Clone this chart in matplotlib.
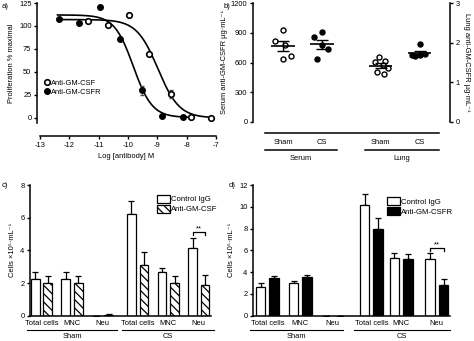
import numpy as np
import matplotlib
matplotlib.use("Agg")
import matplotlib.pyplot as plt
import matplotlib.transforms as mtransforms
from matplotlib.patches import Patch

plt.rcParams['font.family'] = ['Liberation Sans', 'DejaVu Sans']
plt.rcParams['font.size'] = 5.4
plt.rcParams['axes.unicode_minus'] = False
plt.rcParams['axes.linewidth'] = 1.1
plt.rcParams['xtick.major.width'] = 1.0
plt.rcParams['ytick.major.width'] = 1.0
plt.rcParams['xtick.major.size'] = 2.5
plt.rcParams['ytick.major.size'] = 2.5
plt.rcParams['xtick.major.pad'] = 2
plt.rcParams['ytick.major.pad'] = 1.5
plt.rcParams['hatch.linewidth'] = 0.9

# ---- a) proliferation vs antibody concentration ----
csf_logc = [-11.35, -10.67, -9.95, -9.27, -8.53, -7.86, -7.16]
csf_prolif = [105.5, 101.5, 111.5, 70.0, 26.0, 1.5, 0.0]
csf_err = [0, 0, 0, 0, 4, 0, 0]
csfr_logc = [-12.34, -11.67, -10.95, -10.27, -9.53, -8.85, -8.13]
csfr_prolif = [108.0, 103.5, 120.5, 86.0, 30.0, 2.5, 0.5]
csfr_err = [0, 0, 0, 0, 5, 0, 0]
# four-parameter logistic fits: top, bottom, logIC50, hill
csf_fit = (107.0, 0.0, -8.98, 1.2)
csfr_fit = (112.0, 0.5, -9.82, 1.35)

# ---- b) serum and lung anti-GM-CSFR ----
serum_sham = [928, 812, 780, 665, 635]
serum_cs = [905, 857, 777, 737, 635]
lung_sham = [1.64, 1.55, 1.51, 1.43, 1.35, 1.26, 1.22]
lung_cs = [1.96, 1.70, 1.68, 1.72, 1.66]

# ---- c) / d) BAL cell counts ----
cell_types = ["Total cells", "MNC", "Neu", "Total cells", "MNC", "Neu"]
groups = ["Sham", "CS"]
c_ctrl = [2.25, 2.25, 0.0, 6.22, 2.70, 4.17]
c_ctrl_err = [0.45, 0.40, 0.0, 0.82, 0.22, 0.57]
c_anti = [2.00, 1.98, 0.05, 3.10, 2.00, 1.85]
c_anti_err = [0.45, 0.44, 0.03, 0.82, 0.45, 0.65]
d_ctrl = [2.66, 2.97, 0.0, 10.16, 5.32, 5.17]
d_ctrl_err = [0.31, 0.23, 0.0, 1.01, 0.48, 0.55]
d_anti = [3.43, 3.52, 0.0, 8.00, 5.17, 2.85]
d_anti_err = [0.21, 0.23, 0.0, 0.93, 0.53, 0.55]

W, H = 474, 341
fig = plt.figure(figsize=(W / 100, H / 100), dpi=100)


def box(x0, y0, x1, y1):
    return fig.add_axes([x0 / W, 1 - y1 / H, (x1 - x0) / W, (y1 - y0) / H])


def fig_y(py):
    return 1 - py / H


def logistic(x, top, bottom, ic50, hill):
    return bottom + (top - bottom) / (1 + 10 ** ((x - ic50) * hill))


# ================= panel a =================
ax = box(37, 3, 216, 123)
ax.set_xlim(-13.1, -7)
ax.set_ylim(-5.5, 125)
for s in ("top", "right"):
    ax.spines[s].set_visible(False)
ax.spines["bottom"].set_position(("outward", 9))
ax.spines["bottom"].set_bounds(-13, -7)
ax.set_xticks(range(-13, -6))
ax.set_yticks([0, 25, 50, 75, 100, 125])

xs = np.linspace(-12.3, -7.15, 200)
ax.plot(xs, logistic(xs, *csf_fit), color="black", lw=1.2)
xs2 = np.linspace(-12.4, -7.8, 200)
ax.plot(xs2, logistic(xs2, *csfr_fit), color="black", lw=1.2)
ax.errorbar(csf_logc, csf_prolif, yerr=csf_err, fmt="none", ecolor="0.3", lw=0.6, capsize=1.5)
ax.errorbar(csfr_logc, csfr_prolif, yerr=csfr_err, fmt="none", ecolor="0.3", lw=0.6, capsize=1.5)
ax.plot(csf_logc, csf_prolif, "o", ms=4.0, mfc="white", mec="black", mew=1.2,
        label="Anti-GM-CSF", clip_on=False, zorder=3)
ax.plot(csfr_logc, csfr_prolif, "o", ms=4.0, mfc="black", mec="black",
        label="Anti-GM-CSFR", clip_on=False, zorder=3)
ax.legend(loc="upper left", bbox_to_anchor=(0.025, 0.385), frameon=False,
          handlelength=0.6, handletextpad=0.3, labelspacing=0.2, borderaxespad=0,
          fontsize=5.4)
ax.set_ylabel("Proliferation % maximal", labelpad=3)
ax.set_xlabel("Log [antibody] M", labelpad=3)
fig.text(2 / W, fig_y(8), "a)", fontsize=5.6)

# ================= panel b =================
bx = box(253, 3, 450, 122)
bpos = [0, 1, 2.5, 3.5]
bx.set_xlim(-0.77, 4.28)
bx.set_ylim(0, 1200)
bx.spines["top"].set_visible(False)
bx.spines["right"].set_visible(False)
bx.spines["bottom"].set_position(("outward", 8))
bx.spines["bottom"].set_bounds(-0.46, 4.0)
bx.set_yticks([0, 300, 600, 900, 1200])
bx.set_xticks(bpos)
bx.set_xticklabels(["Sham", "CS", "Sham", "CS"])
bx.tick_params(axis="x", length=0, pad=4)
bx.set_ylabel("Serum anti-GM-CSFR \u00b5g\u00b7mL\u207b\u00b9", labelpad=2)

bx2 = bx.twinx()
bx2.set_ylim(0, 3)
bx2.set_yticks([0, 1, 2, 3])
for s in ("top", "left", "bottom"):
    bx2.spines[s].set_visible(False)
bx2.set_ylabel("Lung anti-GM-CSFR \u00b5g\u00b7mL\u207b\u00b9", rotation=-90, labelpad=7)

jitter5 = [0.0, -0.2, 0.05, 0.2, 0.0]
jitter7 = [-0.05, 0.12, -0.15, 0.05, 0.18, -0.08, 0.08]
jitter5b = [0.0, -0.2, 0.0, 0.15, -0.12]


def scatter_group(a, x0, vals, jit, filled):
    vals = np.asarray(vals, float)
    xs = x0 + np.asarray(jit[:len(vals)])
    m = vals.mean()
    se = vals.std(ddof=1) / np.sqrt(len(vals))
    a.plot(xs, vals, "o", ms=3.6, mfc="black" if filled else "white",
           mec="black", mew=1.0, zorder=3, clip_on=False)
    a.hlines(m, x0 - 0.3, x0 + 0.3, color="black", lw=1.2, zorder=4)
    a.errorbar([x0], [m], yerr=[se], fmt="none", ecolor="black", lw=1.0,
               capsize=4, capthick=1.0, zorder=4)


scatter_group(bx, bpos[0], serum_sham, jitter5, False)
scatter_group(bx, bpos[1], serum_cs, jitter5b, True)
scatter_group(bx2, bpos[2], lung_sham, jitter7, False)
scatter_group(bx2, bpos[3], lung_cs, jitter5b, True)

tb = mtransforms.blended_transform_factory(bx.transData, fig.transFigure)
bx.plot([-0.46, 1.38], [fig_y(150)] * 2, color="black", lw=1.1, transform=tb, clip_on=False)
bx.plot([2.10, 4.0], [fig_y(150)] * 2, color="black", lw=1.1, transform=tb, clip_on=False)
bx.text(0.46, fig_y(158), "Serum", transform=tb, ha="center", va="center")
bx.text(3.05, fig_y(158), "Lung", transform=tb, ha="center", va="center")
fig.text(224 / W, fig_y(8), "b)", fontsize=5.6)


# ================= panels c and d =================
def bar_panel(x0px, x1px, pos, xlim, ylim, yticks, ctrl, ctrl_err, anti, anti_err,
              anti_style, anti_label, sig_y, grp_lines, grp_labels, tag, tag_x):
    a = box(x0px, 185, x1px, 315.7)
    a.set_xlim(*xlim)
    a.set_ylim(*ylim)
    a.set_yticks(yticks)
    for s in ("top", "right"):
        a.spines[s].set_visible(False)
    pos = np.asarray(pos)
    w, off = 0.29, 0.205
    a.bar(pos - off, ctrl, w, color="white", edgecolor="black", lw=0.9, zorder=2)
    a.bar(pos + off, anti, w, edgecolor="black", lw=0.9, zorder=2, **anti_style)
    a.errorbar(pos - off, ctrl, yerr=[np.zeros(len(ctrl)), ctrl_err], fmt="none",
               ecolor="black", lw=0.9, capsize=2.2, capthick=0.9, zorder=1)
    a.errorbar(pos + off, anti, yerr=[np.zeros(len(anti)), anti_err], fmt="none",
               ecolor="black", lw=0.9, capsize=2.2, capthick=0.9, zorder=1)
    a.set_xticks(pos)
    a.set_xticklabels(cell_types)
    a.tick_params(axis="x", length=0, pad=3)
    # significance bracket over CS neutrophils
    xl, xr = pos[5] - off, pos[5] + off
    tick = (ylim[1] - ylim[0]) * 0.018
    a.plot([xl, xl, xr, xr], [sig_y - tick, sig_y, sig_y, sig_y - tick], color="black", lw=0.9)
    a.text((xl + xr) / 2, sig_y, "**", ha="center", va="bottom", fontsize=5.5)
    handles = [Patch(facecolor="white", edgecolor="black", lw=0.9, label="Control IgG"),
               Patch(edgecolor="black", lw=0.9, label=anti_label, **anti_style)]
    a.legend(handles=handles, loc="upper left", bbox_to_anchor=legend_anchor[tag],
             frameon=False, handlelength=1.6, handleheight=1.2, handletextpad=0.2,
             labelspacing=0.2, borderaxespad=0, fontsize=5.6)
    a.set_ylabel("Cells \u00d710\u2075\u00b7mL\u207b\u00b9", labelpad=3)
    t = mtransforms.blended_transform_factory(a.transData, fig.transFigure)
    for (l, r), g in zip(grp_lines, grp_labels):
        a.plot([l, r], [fig_y(330)] * 2, color="black", lw=0.8, transform=t, clip_on=False)
        a.text((l + r) / 2, fig_y(336.5), g, transform=t, ha="center", va="center")
    fig.text(tag_x / W, fig_y(187), tag + ")", fontsize=5.6)
    return a


legend_anchor = {"c": (0.685, 0.95), "d": (0.665, 0.93)}

# c) pixel scale 30.5 px per unit, origin at first pair
c_pos = [0, 1, 2, 3.15, 4.15, 5.15]
bar_panel(30, 211, c_pos, (-0.38, 5.55), (0, 8), [0, 2, 4, 6, 8],
          c_ctrl, c_ctrl_err, c_anti, c_anti_err,
          dict(facecolor="white", hatch="\\\\\\\\"), "Anti-GM-CSF", 5.1,
          [(-0.48, 2.47), (2.64, 5.65)], groups, "c", 2)

# d) pixel scale 33 px per unit
d_pos = [0, 1, 1.98, 3.15, 4.05, 5.13]
bar_panel(253, 450, d_pos, (-0.436, 5.53), (0, 12), [0, 2, 4, 6, 8, 10, 12],
          d_ctrl, d_ctrl_err, d_anti, d_anti_err,
          dict(facecolor="black"), "Anti-GM-CSFR", 6.18,
          [(-0.53, 2.29), (2.62, 5.53)], groups, "d", 229)

fig.savefig("out.png", dpi=100)
